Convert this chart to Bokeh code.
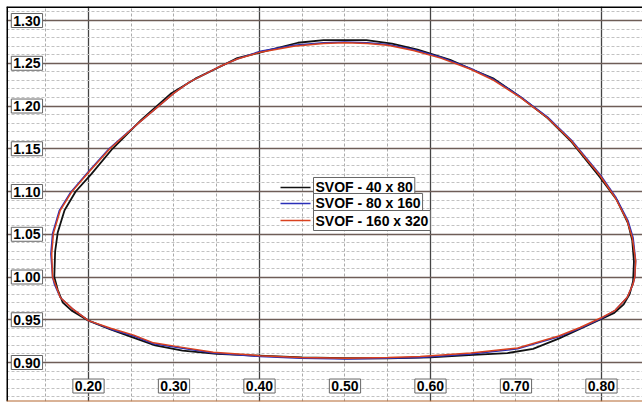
from bokeh.plotting import figure
from bokeh.models import FixedTicker, Label, Span, Range1d
from bokeh.embed import file_html
from bokeh.resources import INLINE

# ---- data -------------------------------------------------------------
x_tick_vals = [0.20, 0.30, 0.40, 0.50, 0.60, 0.70, 0.80]
x_tick_text = ["0.20", "0.30", "0.40", "0.50", "0.60", "0.70", "0.80"]
y_tick_vals = [0.90, 0.95, 1.00, 1.05, 1.10, 1.15, 1.20, 1.25, 1.30]
y_tick_text = ["0.90", "0.95", "1.00", "1.05", "1.10", "1.15", "1.20", "1.25", "1.30"]

series_names = ["SVOF - 40 x 80", "SVOF - 80 x 160", "SVOF - 160 x 320"]

# SVOF 160 x 320 (red)
fine_x = [0.158, 0.157, 0.159, 0.167, 0.180, 0.199, 0.225, 0.255, 0.281, 0.300,
          0.318, 0.351, 0.374, 0.401, 0.440, 0.475, 0.500, 0.526, 0.550, 0.580,
          0.612, 0.647, 0.674, 0.705, 0.737, 0.764, 0.798, 0.816, 0.830, 0.836,
          0.840, 0.839, 0.837, 0.830, 0.816, 0.799, 0.775, 0.750, 0.702, 0.647,
          0.588, 0.550, 0.503, 0.448, 0.401, 0.346, 0.308, 0.276, 0.253, 0.226,
          0.200, 0.181, 0.167, 0.161, 0.158]
fine_y = [1.000, 1.027, 1.051, 1.078, 1.099, 1.121, 1.150, 1.177, 1.199, 1.215,
          1.228, 1.245, 1.255, 1.263, 1.270, 1.273, 1.274, 1.273, 1.271, 1.265,
          1.256, 1.243, 1.230, 1.210, 1.186, 1.160, 1.119, 1.093, 1.066, 1.046,
          1.019, 1.000, 0.992, 0.976, 0.961, 0.952, 0.941, 0.931, 0.917, 0.911,
          0.907, 0.906, 0.905, 0.906, 0.908, 0.912, 0.918, 0.923, 0.932, 0.940,
          0.949, 0.963, 0.976, 0.992, 1.000]

# SVOF 80 x 160 (blue)
mid_x = [0.158, 0.156, 0.158, 0.166, 0.179, 0.198, 0.224, 0.255, 0.281, 0.300,
         0.318, 0.351, 0.374, 0.401, 0.440, 0.475, 0.500, 0.526, 0.550, 0.580,
         0.612, 0.647, 0.674, 0.705, 0.737, 0.765, 0.799, 0.817, 0.831, 0.837,
         0.840, 0.839, 0.837, 0.830, 0.816, 0.799, 0.775, 0.750, 0.702, 0.647,
         0.588, 0.550, 0.503, 0.448, 0.401, 0.346, 0.308, 0.276, 0.253, 0.226,
         0.200, 0.181, 0.167, 0.160, 0.158]
mid_y = [1.000, 1.027, 1.051, 1.078, 1.099, 1.121, 1.150, 1.177, 1.199, 1.215,
         1.228, 1.245, 1.255, 1.264, 1.271, 1.274, 1.275, 1.274, 1.272, 1.266,
         1.257, 1.244, 1.231, 1.211, 1.187, 1.160, 1.119, 1.093, 1.066, 1.046,
         1.019, 1.000, 0.992, 0.976, 0.961, 0.951, 0.940, 0.930, 0.916, 0.910,
         0.906, 0.905, 0.904, 0.905, 0.907, 0.911, 0.917, 0.922, 0.931, 0.939,
         0.949, 0.963, 0.976, 0.992, 1.000]

# SVOF 40 x 80 (black)
coarse_x = [0.160, 0.161, 0.164, 0.172, 0.185, 0.203, 0.228, 0.262, 0.297, 0.325,
            0.352, 0.374, 0.410, 0.445, 0.475, 0.525, 0.555, 0.585, 0.623, 0.648,
            0.674, 0.706, 0.737, 0.765, 0.798, 0.818, 0.831, 0.836, 0.838, 0.837,
            0.833, 0.826, 0.815, 0.798, 0.776, 0.750, 0.720, 0.690, 0.650, 0.600,
            0.550, 0.500, 0.450, 0.400, 0.350, 0.310, 0.278, 0.250, 0.225, 0.200,
            0.180, 0.170, 0.164, 0.160]
coarse_y = [1.000, 1.030, 1.052, 1.078, 1.100, 1.120, 1.150, 1.184, 1.215, 1.232,
            1.245, 1.256, 1.265, 1.274, 1.277, 1.277, 1.273, 1.266, 1.254, 1.243,
            1.232, 1.210, 1.186, 1.158, 1.117, 1.090, 1.063, 1.043, 1.018, 0.995,
            0.980, 0.968, 0.958, 0.950, 0.940, 0.928, 0.916, 0.911, 0.909, 0.906,
            0.905, 0.905, 0.906, 0.908, 0.910, 0.914, 0.920, 0.930, 0.939, 0.949,
            0.961, 0.970, 0.985, 1.000]

series_colors = ["#111111", "#2a2fb8", "#d9411e"]

# ---- figure -------------------------------------------------------------
X0, X1 = 0.1041, 0.8480
Y0, Y1 = 0.8544, 1.3164

p = figure(width=642, height=403, x_range=Range1d(X0, X1), y_range=Range1d(Y0, Y1),
           output_backend="svg", toolbar_location=None,
           min_border_left=6, min_border_top=6, min_border_right=0, min_border_bottom=2,
           background_fill_color="white", border_fill_color="white")
p.xaxis.visible = False
p.yaxis.visible = False
p.outline_line_color = None

x_major = [0.20, 0.40, 0.60, 0.80]
x_minor = [0.15, 0.25, 0.30, 0.35, 0.45, 0.50, 0.55, 0.65, 0.70, 0.75]
y_minor = [round(0.86 + 0.01 * i, 2) for i in range(46)]
y_minor = [v for v in y_minor if all(abs(v - t) > 1e-6 for t in y_tick_vals)]

p.xgrid.ticker = FixedTicker(ticks=x_major, minor_ticks=x_minor)
p.xgrid.grid_line_color = "#444444"
p.xgrid.grid_line_width = 1.3
p.xgrid.minor_grid_line_color = "#ababab"
p.xgrid.minor_grid_line_dash = "3 2"

p.ygrid.ticker = FixedTicker(ticks=y_tick_vals, minor_ticks=y_minor)
p.ygrid.grid_line_color = "#6e5d57"
p.ygrid.grid_line_width = 1.4
p.ygrid.minor_grid_line_color = "#c2c2c2"
p.ygrid.minor_grid_line_dash = "3 2"

# frame edges
p.add_layout(Span(location=Y1, dimension="width", line_color="black", line_width=3))
p.add_layout(Span(location=X0, dimension="height", line_color="black", line_width=3))
p.add_layout(Span(location=Y0, dimension="width", line_color="#b3672e", line_width=2))

# curves
p.line(coarse_x, coarse_y, line_color=series_colors[0], line_width=1.8)
p.line(mid_x, mid_y, line_color=series_colors[1], line_width=1.5)
p.line(fine_x, fine_y, line_color=series_colors[2], line_width=1.5)

FONT = "Liberation Sans"

# tick labels drawn inside the plot, boxed
x_lab_y = 0.8725
for v, t in zip(x_tick_vals, x_tick_text):
    p.add_layout(Label(x=v, y=x_lab_y, text=t, text_align="center", text_baseline="middle",
                       text_font=FONT, text_font_size="14px", text_font_style="bold",
                       text_color="black", background_fill_color="white",
                       border_line_color="#666666", border_line_width=1, padding=2))
y_lab_x = 0.128
for v, t in zip(y_tick_vals, y_tick_text):
    p.add_layout(Label(x=y_lab_x, y=v, text=t, text_align="center", text_baseline="middle",
                       text_font=FONT, text_font_size="14px", text_font_style="bold",
                       text_color="black", background_fill_color="white",
                       border_line_color="#666666", border_line_width=1, padding=2))

# legend (custom, centered inside the plot)
leg_y = [1.1047, 1.0860, 1.0661]
leg_x0, leg_x1, leg_tx = 0.4246, 0.4597, 0.4632
p.segment(x0=[leg_x0] * 3, x1=[leg_x1] * 3, y0=leg_y, y1=leg_y,
          line_color=series_colors, line_width=1.5)
for yy, name in zip(leg_y, series_names):
    p.add_layout(Label(x=leg_tx, y=yy, text=name, text_align="left", text_baseline="middle",
                       text_font=FONT, text_font_size="14px", text_font_style="bold",
                       text_color="black", background_fill_color="white",
                       border_line_color="#666666", border_line_width=1, padding=2))

open("out.html", "w").write(file_html(p, INLINE))
